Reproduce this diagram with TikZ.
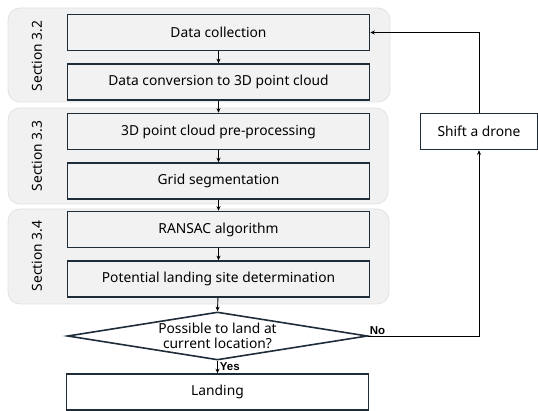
\documentclass[tikz,border=0pt]{standalone}
\usepackage{fontspec}
\setmainfont{Noto Sans}
\newfontfamily\lblfont{Liberation Sans}
\usetikzlibrary{shapes.geometric,arrows.meta}
\definecolor{edge}{HTML}{1F2D3A}
\definecolor{boxfill}{HTML}{F2F2F2}
\definecolor{grpfill}{HTML}{F1F1F1}
\definecolor{grpedge}{HTML}{E2E2E2}
\begin{document}
\begin{tikzpicture}[x=1pt,y=-1pt,
  every node/.style={font=\fontsize{13.8}{16}\selectfont},
  stepbox/.style={draw=edge,line width=1.6pt,fill=boxfill,minimum width=302pt,minimum height=36pt,inner sep=0pt},
  whitebox/.style={stepbox,fill=white},
  grp/.style={draw=grpedge,fill=grpfill,rounded corners=12pt,line width=0.8pt},
  seclabel/.style={rotate=90,font=\fontsize{13.8}{16}\selectfont},
  arr/.style={draw=black,line width=0.9pt,-{Stealth[length=4.5pt,width=4pt]}},
  lbl/.style={font=\lblfont\bfseries\fontsize{11.5}{13}\selectfont,inner sep=1pt}
]
\useasboundingbox (0,0) rectangle (538,411);
% groups
\draw[grp] (8,8) rectangle (390,102);
\draw[grp] (8,108) rectangle (388,204);
\draw[grp] (8,209) rectangle (389,304);
\node[seclabel] (s1) at (37,56) {Section 3.2};
\node[seclabel] (s2) at (37,156) {Section 3.3};
\node[seclabel] (s3) at (37,256) {Section 3.4};
% boxes
\node[stepbox] (b1) at (218.5,32.5) {Data collection};
\node[stepbox] (b2) at (218.5,82) {Data conversion to 3D point cloud};
\node[stepbox] (b3) at (218.5,131.5) {3D point cloud pre-processing};
\node[stepbox] (b4) at (218.5,181) {Grid segmentation};
\node[stepbox] (b5) at (218.5,229.5) {RANSAC algorithm};
\node[stepbox] (b6) at (218.5,279) {Potential landing site determination};
\node[diamond,aspect=6.25,draw=edge,line width=1.6pt,fill=white,inner sep=0pt,minimum width=300pt,minimum height=48pt,align=center,font=\fontsize{13.8}{15}\selectfont] (d) at (217.5,336) {Possible to land at\\current location?};
\node[whitebox] (land) at (217.5,392) {Landing};
\node[draw=edge,line width=1.6pt,fill=white,minimum width=117pt,minimum height=36pt,inner sep=0pt] (shift) at (479,131.5) {Shift a drone};
% arrows
\draw[arr] (b1) -- (b2);
\draw[arr] (b2) -- (b3);
\draw[arr] (b3) -- (b4);
\draw[arr] (b4) -- (b5);
\draw[arr] (b5) -- (b6);
\draw[arr] (b6) -- (d.north);
\draw[arr] (d.south) -- (land) node[lbl,pos=0.5,anchor=west,xshift=1pt] (yes) {Yes};
\draw[arr] (d.east) -| (shift.south) node[lbl,pos=0,anchor=south west,xshift=0pt] (no) {No};
\draw[arr] (shift.north) |- (b1.east);
\end{tikzpicture}
\end{document}
